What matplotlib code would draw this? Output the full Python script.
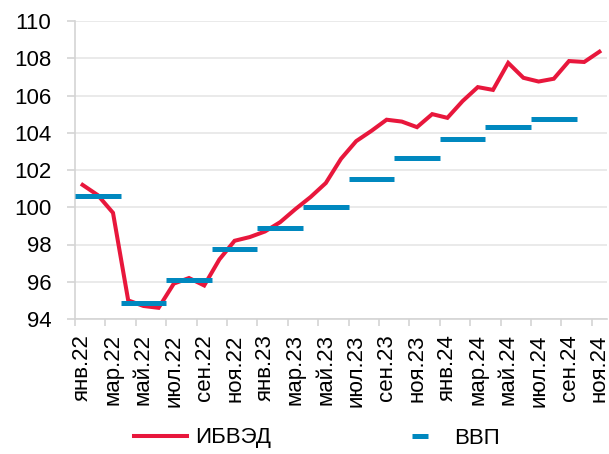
import matplotlib
matplotlib.use('Agg')
import matplotlib.pyplot as plt
import numpy as np
from matplotlib.lines import Line2D

plt.rcParams['font.family'] = ['Liberation Sans', 'DejaVu Sans']

months = ['янв.22', 'фев.22', 'мар.22', 'апр.22', 'май.22', 'июн.22', 'июл.22', 'авг.22', 'сен.22', 'окт.22', 'ноя.22', 'дек.22',
          'янв.23', 'фев.23', 'мар.23', 'апр.23', 'май.23', 'июн.23', 'июл.23', 'авг.23', 'сен.23', 'окт.23', 'ноя.23', 'дек.23',
          'янв.24', 'фев.24', 'мар.24', 'апр.24', 'май.24', 'июн.24', 'июл.24', 'авг.24', 'сен.24', 'окт.24', 'ноя.24']
ibved = [101.2, 100.65, 99.7, 95.0, 94.7, 94.6, 95.9, 96.2, 95.8, 97.2, 98.2, 98.4,
         98.7, 99.2, 99.9, 100.55, 101.3, 102.6, 103.55, 104.1, 104.7, 104.6, 104.3, 105.0,
         104.8, 105.7, 106.45, 106.3, 107.75, 106.95, 106.75, 106.9, 107.85, 107.8, 108.35]
gdp = [100.6, 94.85, 96.1, 97.75, 98.9, 100.0, 101.5, 102.65, 103.65, 104.3, 104.75]

red = '#E8173C'
blue = '#0088BF'

fig = plt.figure(figsize=(6.09, 4.54), dpi=100)
ax = fig.add_axes([75/609, 1 - 319/454, 532/609, 298/454])

x = np.arange(len(months))
ax.plot(x, ibved, color=red, lw=2.9, solid_joinstyle='miter', zorder=3)
q = np.arange(len(gdp)) * 3
ax.hlines(gdp, q - 0.5, q + 2.5, color=blue, lw=3.6, zorder=4)

ax.set_xlim(-0.5, len(months) - 0.5)
ax.set_ylim(94, 110)
ax.set_yticks(np.arange(94, 111, 2))
ax.grid(axis='y', color='#E6E6E6', lw=1.2, zorder=0)
ax.set_axisbelow(True)

ax.set_xticks(x[::2])
ax.set_xticklabels(months[::2], rotation=90, fontsize=16)
ax.set_xticks(np.arange(-0.5, len(months), 2), minor=True)
ax.tick_params(axis='x', which='major', length=0, pad=11)
ax.tick_params(axis='x', which='minor', length=5, color='#D4D4D4', width=1.2)
ax.tick_params(axis='y', labelsize=16, length=6, color='#D4D4D4', width=1.2, pad=11)

for s in ['top', 'right']:
    ax.spines[s].set_visible(False)
for s in ['left', 'bottom']:
    ax.spines[s].set_color('#D4D4D4')
    ax.spines[s].set_linewidth(1.2)

handles = [Line2D([], [], color=red, lw=2.9),
           Line2D([], [], color=blue, lw=0, marker='_', markersize=12, markeredgewidth=3.6)]
fig.legend(handles, ['ИБВЭД', 'ВВП'], loc='center left', bbox_to_anchor=(134/609, 1 - 438/454),
           ncol=2, frameon=False, fontsize=16, borderpad=0, borderaxespad=0,
           handlelength=2.4, handletextpad=0.35, columnspacing=5.5)

fig.savefig('out.png', dpi=100)
